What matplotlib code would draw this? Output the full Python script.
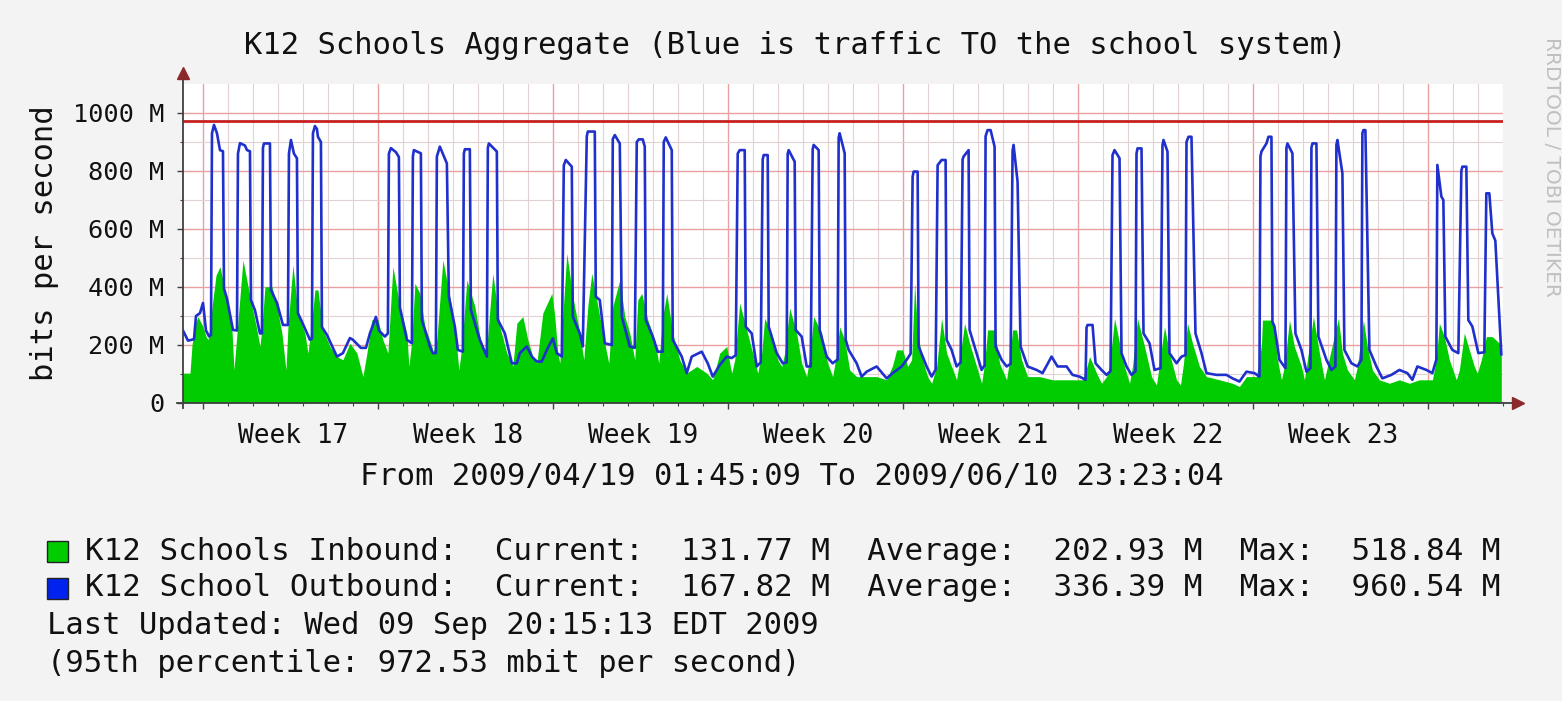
import matplotlib
matplotlib.use("Agg")
import matplotlib.pyplot as plt
from matplotlib.patches import Rectangle
from matplotlib.transforms import blended_transform_factory

# ---------------- data (days since 2009/04/19 01:45, Mbit/s) ----------------
outbound = [
    (0.00, 262), (0.12, 250), (0.32, 215), (0.56, 220), (0.64, 300), (0.80, 310), (0.92, 345), (1.04, 250),
    (1.16, 230), (1.24, 235), (1.28, 930), (1.36, 959), (1.48, 930), (1.60, 872), (1.72, 868), (1.76, 395),
    (1.88, 360), (2.12, 252), (2.28, 250), (2.32, 860), (2.40, 896), (2.60, 888), (2.68, 872), (2.80, 868),
    (2.84, 355), (3.00, 320), (3.20, 240), (3.28, 240), (3.32, 880), (3.36, 895), (3.60, 895), (3.64, 390),
    (3.88, 345), (4.12, 269), (4.32, 269), (4.36, 860), (4.44, 907), (4.56, 860), (4.68, 844), (4.72, 310),
    (4.88, 280), (5.20, 218), (5.28, 222), (5.32, 930), (5.40, 955), (5.48, 945), (5.52, 918), (5.64, 900),
    (5.68, 262), (5.88, 235), (6.28, 160), (6.52, 172), (6.80, 224), (6.92, 218), (7.24, 190), (7.44, 190),
    (7.60, 240), (7.84, 297), (7.96, 250), (8.20, 229), (8.32, 240), (8.36, 860), (8.44, 879), (8.64, 865),
    (8.76, 848), (8.80, 330), (9.08, 218), (9.28, 206), (9.32, 850), (9.36, 872), (9.64, 861), (9.68, 287),
    (10.00, 195), (10.12, 172), (10.24, 172), (10.28, 850), (10.40, 884), (10.68, 826), (10.76, 367),
    (11.00, 263), (11.12, 183), (11.32, 177), (11.36, 860), (11.40, 875), (11.60, 875), (11.64, 321),
    (12.00, 218), (12.28, 160), (12.32, 880), (12.36, 895), (12.68, 867), (12.72, 287), (13.00, 240),
    (13.28, 137), (13.48, 137), (13.60, 172), (13.88, 195), (14.08, 160), (14.28, 143), (14.48, 143),
    (14.68, 183), (14.92, 223), (15.08, 172), (15.28, 160), (15.36, 820), (15.44, 838), (15.68, 815),
    (15.72, 298), (16.00, 240), (16.12, 195), (16.28, 920), (16.32, 936), (16.60, 936), (16.64, 367),
    (16.80, 355), (17.00, 206), (17.28, 200), (17.32, 910), (17.40, 924), (17.60, 895), (17.68, 298),
    (18.00, 195), (18.20, 190), (18.28, 900), (18.36, 909), (18.52, 909), (18.60, 884), (18.64, 287),
    (18.92, 229), (19.12, 177), (19.32, 177), (19.36, 900), (19.44, 916), (19.68, 872), (19.72, 218),
    (20.08, 160), (20.28, 103), (20.48, 160), (20.88, 177), (21.12, 137), (21.32, 91), (21.60, 131),
    (21.88, 160), (22.08, 155), (22.24, 165), (22.32, 860), (22.40, 872), (22.60, 872), (22.64, 263),
    (22.88, 240), (23.08, 126), (23.24, 140), (23.32, 840), (23.36, 855), (23.52, 855), (23.56, 263),
    (23.88, 172), (24.12, 137), (24.28, 140), (24.32, 860), (24.36, 872), (24.60, 832), (24.64, 252),
    (24.88, 229), (25.08, 126), (25.24, 126), (25.32, 875), (25.36, 890), (25.56, 872), (25.60, 252),
    (25.88, 160), (26.12, 137), (26.32, 150), (26.36, 915), (26.40, 930), (26.60, 861), (26.64, 218),
    (26.76, 183), (27.08, 137), (27.28, 91), (27.48, 108), (27.88, 126), (28.28, 85), (28.52, 103),
    (28.88, 126), (29.08, 149), (29.24, 170), (29.32, 780), (29.36, 798), (29.52, 798), (29.56, 195),
    (29.88, 126), (30.08, 91), (30.24, 115), (30.32, 820), (30.48, 838), (30.64, 838), (30.68, 218),
    (30.88, 183), (31.08, 126), (31.24, 140), (31.32, 840), (31.36, 850), (31.56, 872), (31.60, 252),
    (31.88, 172), (32.08, 114), (32.20, 130), (32.24, 920), (32.32, 941), (32.44, 941), (32.60, 884),
    (32.64, 195), (32.88, 149), (33.08, 126), (33.24, 135), (33.32, 870), (33.36, 890), (33.52, 763),
    (33.64, 195), (33.92, 126), (34.28, 114), (34.52, 103), (34.88, 160), (35.12, 126), (35.48, 126),
    (35.72, 97), (36.00, 91), (36.24, 80), (36.28, 260), (36.32, 269), (36.52, 269), (36.64, 137),
    (36.88, 114), (37.08, 97), (37.24, 110), (37.32, 855), (37.40, 872), (37.60, 844), (37.68, 172),
    (37.88, 126), (38.08, 97), (38.24, 110), (38.28, 860), (38.32, 878), (38.48, 878), (38.56, 240),
    (38.80, 206), (39.00, 114), (39.24, 120), (39.32, 890), (39.36, 907), (39.52, 867), (39.60, 172),
    (39.88, 137), (40.08, 160), (40.24, 165), (40.28, 900), (40.36, 918), (40.48, 918), (40.64, 240),
    (40.88, 172), (41.08, 103), (41.48, 97), (41.88, 97), (42.12, 85), (42.40, 74), (42.68, 108),
    (43.00, 103), (43.20, 91), (43.24, 850), (43.28, 867), (43.48, 895), (43.56, 918), (43.68, 918),
    (43.72, 280), (43.80, 264), (44.00, 149), (44.24, 120), (44.28, 880), (44.32, 895), (44.52, 861),
    (44.64, 240), (44.88, 183), (45.08, 108), (45.24, 120), (45.28, 880), (45.32, 895), (45.48, 895),
    (45.56, 229), (45.88, 149), (46.08, 114), (46.24, 126), (46.28, 890), (46.32, 907), (46.52, 792),
    (46.60, 183), (46.88, 137), (47.12, 126), (47.28, 149), (47.32, 930), (47.36, 941), (47.44, 941),
    (47.60, 183), (47.88, 126), (48.12, 85), (48.48, 97), (48.80, 114), (49.12, 103), (49.32, 80),
    (49.52, 126), (49.88, 114), (50.12, 103), (50.28, 150), (50.32, 821), (50.48, 712), (50.56, 700),
    (50.64, 229), (50.92, 183), (51.16, 172), (51.28, 800), (51.32, 815), (51.48, 815), (51.56, 286),
    (51.72, 264), (51.96, 172), (52.20, 175), (52.28, 723), (52.40, 723), (52.52, 585), (52.64, 560),
    (52.88, 168),
]

inbound = [
    (0.00, 103), (0.40, 103), (0.48, 200), (0.60, 270), (0.72, 298), (0.92, 263), (1.04, 230), (1.12, 218),
    (1.20, 260), (1.28, 330), (1.44, 440), (1.60, 470), (1.88, 355), (2.08, 252), (2.16, 114), (2.28, 240),
    (2.52, 493), (2.80, 367), (3.08, 252), (3.20, 195), (3.28, 263), (3.40, 401), (3.68, 401), (3.88, 333),
    (4.08, 240), (4.24, 114), (4.32, 263), (4.52, 476), (4.72, 310), (5.00, 240), (5.12, 172), (5.24, 252),
    (5.40, 390), (5.52, 390), (5.72, 252), (6.00, 195), (6.28, 160), (6.52, 149), (6.80, 206), (7.08, 172),
    (7.32, 91), (7.48, 172), (7.68, 287), (7.92, 287), (8.12, 218), (8.32, 172), (8.52, 470), (8.80, 333),
    (9.08, 240), (9.16, 126), (9.28, 218), (9.40, 413), (9.60, 378), (9.80, 263), (10.08, 195), (10.12, 172),
    (10.28, 218), (10.52, 493), (10.80, 367), (11.00, 263), (11.16, 114), (11.28, 195), (11.48, 424),
    (11.80, 333), (12.00, 229), (12.16, 172), (12.28, 195), (12.52, 447), (12.80, 263), (13.08, 172),
    (13.28, 137), (13.32, 126), (13.48, 275), (13.72, 298), (13.92, 218), (14.12, 160), (14.28, 137),
    (14.52, 310), (14.88, 378), (15.00, 298), (15.12, 172), (15.20, 137), (15.48, 516), (15.72, 367),
    (16.00, 240), (16.16, 149), (16.32, 333), (16.48, 447), (16.68, 355), (16.92, 240), (17.16, 137),
    (17.32, 333), (17.60, 424), (17.80, 298), (18.00, 240), (18.20, 149), (18.32, 355), (18.48, 378),
    (18.72, 287), (19.00, 218), (19.16, 137), (19.32, 298), (19.48, 378), (19.72, 240), (20.00, 149),
    (20.28, 103), (20.68, 126), (21.08, 103), (21.32, 80), (21.60, 172), (21.88, 195), (22.00, 137),
    (22.08, 103), (22.20, 149), (22.40, 344), (22.68, 252), (22.92, 172), (23.12, 103), (23.28, 172),
    (23.40, 292), (23.68, 240), (23.92, 149), (24.08, 126), (24.20, 172), (24.40, 327), (24.68, 240),
    (24.88, 137), (25.08, 91), (25.20, 160), (25.36, 298), (25.68, 240), (25.92, 137), (26.12, 91),
    (26.28, 172), (26.40, 263), (26.60, 218), (26.80, 114), (27.08, 91), (27.48, 91), (27.88, 91),
    (28.28, 80), (28.52, 130), (28.68, 183), (28.92, 183), (29.12, 126), (29.28, 149), (29.40, 413),
    (29.52, 240), (29.72, 149), (29.92, 91), (30.08, 68), (30.28, 126), (30.48, 292), (30.68, 172),
    (30.88, 126), (31.08, 80), (31.20, 149), (31.40, 275), (31.60, 206), (31.88, 126), (32.08, 68),
    (32.20, 137), (32.32, 252), (32.60, 252), (32.80, 137), (33.08, 80), (33.20, 149), (33.32, 252),
    (33.48, 252), (33.68, 149), (33.92, 91), (34.40, 91), (34.92, 80), (35.28, 80), (36.12, 80),
    (36.28, 120), (36.40, 160), (36.52, 137), (36.68, 103), (36.88, 68), (37.08, 91), (37.20, 126),
    (37.40, 292), (37.60, 206), (37.80, 126), (38.00, 68), (38.12, 126), (38.32, 292), (38.60, 195),
    (38.88, 91), (39.08, 62), (39.20, 137), (39.40, 263), (39.60, 172), (39.88, 80), (40.04, 62),
    (40.16, 137), (40.32, 275), (40.52, 206), (40.80, 126), (41.08, 91), (41.60, 80), (42.12, 68),
    (42.40, 57), (42.68, 91), (43.08, 91), (43.28, 200), (43.32, 286), (43.72, 286), (43.80, 240),
    (43.92, 149), (44.08, 80), (44.20, 126), (44.40, 286), (44.60, 194), (44.88, 126), (45.00, 80),
    (45.12, 149), (45.36, 298), (45.60, 172), (45.80, 80), (45.92, 126), (46.36, 292), (46.52, 172),
    (46.72, 114), (47.00, 80), (47.12, 126), (47.36, 286), (47.52, 194), (47.72, 114), (48.00, 80),
    (48.40, 68), (48.80, 80), (49.20, 68), (49.60, 80), (50.12, 80), (50.28, 150), (50.40, 275),
    (50.60, 229), (50.80, 149), (51.08, 80), (51.20, 114), (51.40, 241), (51.60, 183), (51.80, 126),
    (51.92, 103), (52.08, 149), (52.28, 229), (52.52, 229), (52.88, 200),
]

percentile_95 = 972.53
week_labels = ["Week 17", "Week 18", "Week 19", "Week 20", "Week 21", "Week 22", "Week 23"]
first_monday = 0.927          # Mon 2009/04/20 00:00 in days since start
y_ticks = [0, 200, 400, 600, 800, 1000]
y_tick_labels = ["0", "200 M", "400 M", "600 M", "800 M", "1000 M"]

series_names = ["K12 Schools Inbound:", "K12 School Outbound:"]
current_vals = ["131.77 M", "167.82 M"]
average_vals = ["202.93 M", "336.39 M"]
max_vals = ["518.84 M", "960.54 M"]

# ---------------- figure ----------------
W, H = 1562, 701
MONO = "DejaVu Sans Mono"
BIG = 22.0
fig = plt.figure(figsize=(W / 100, H / 100), dpi=100)
fig.patch.set_facecolor("#f3f3f3")

def fx(px):
    return px / W

def fy(py):
    return 1 - py / H

ax = fig.add_axes([fx(182.5), fy(403), 1320 / W, 319 / H])
ax.set_facecolor("white")
ax.set_xlim(0.1, 52.9)
ax.set_ylim(0, 1100)

ox = [p[0] for p in outbound]
oy = [p[1] for p in outbound]
ix = [p[0] for p in inbound]
iy = [p[1] for p in inbound]

ax.fill_between(ix, 0, iy, color="#00cc00", lw=0, zorder=2)
ax.plot(ox, oy, color="#2030cc", lw=1.9, zorder=3)
ax.axhline(percentile_95, color="#c82020", lw=2.0, zorder=4)

# grid
week_starts = [first_monday + 7 * k for k in range(8)]
days = [first_monday + k for k in range(53)]
ax.set_xticks(week_starts)
ax.set_xticks(days, minor=True)
ax.set_yticks(y_ticks)
ax.set_yticklabels(y_tick_labels, fontsize=18.2, family=MONO)
ax.set_yticks([100, 300, 500, 700, 900], minor=True)
ax.set_axisbelow(True)
ax.grid(which="major", color="#eaa0a0", lw=1.0)
ax.grid(which="minor", color="#e4d2d2", lw=0.8)
ax.tick_params(axis="x", which="both", labelbottom=False)
ax.tick_params(which="major", direction="out", length=4, color="#404040", width=1)
ax.tick_params(which="minor", direction="out", length=2, color="#404040", width=0.8)
ax.tick_params(axis="y", which="major", pad=9, labelcolor="#111111")
for s in ax.spines.values():
    s.set_visible(False)

# axes with arrows
ax.plot([-0.004, 1.010], [0, 0], transform=ax.transAxes, color="#404040", lw=1.3, clip_on=False, zorder=5)
ax.plot([1.012], [0], transform=ax.transAxes, marker=">", ms=9, color="#8b2a2a", clip_on=False, zorder=6)
ax.plot([0, 0], [-0.015, 1.03], transform=ax.transAxes, color="#404040", lw=1.3, clip_on=False, zorder=5)
ax.plot([0], [1.035], transform=ax.transAxes, marker="^", ms=9, color="#8b2a2a", clip_on=False, zorder=6)

# week labels
trans = blended_transform_factory(ax.transData, ax.transAxes)
for k, lab in enumerate(week_labels):
    ax.text(first_monday + 7 * k + 3.62, -0.103, lab, transform=trans, ha="center", va="center",
            fontsize=18.8, family=MONO, color="#111111")

# texts
fig.text(fx(795), fy(45), "K12 Schools Aggregate (Blue is traffic TO the school system)",
         ha="center", va="center", fontsize=BIG, family=MONO, color="#111111")
fig.text(fx(45), fy(243), "bits per second", rotation=90, ha="center", va="center",
         fontsize=BIG, family=MONO, color="#111111")
fig.text(fx(792), fy(477), "From 2009/04/19 01:45:09 To 2009/06/10 23:23:04",
         ha="center", va="center", fontsize=BIG, family=MONO, color="#111111")
fig.text(fx(1552), fy(167), "RRDTOOL / TOBI OETIKER", rotation=270, ha="center", va="center",
         fontsize=14.5, color="#c0c0c0", family="DejaVu Sans")

# legend
box_colors = ["#00cc00", "#0022ee"]
row_y = [551, 588]
for name, cur, avg, mx, col, yy in zip(series_names, current_vals, average_vals, max_vals, box_colors, row_y):
    fig.add_artist(Rectangle((fx(47), fy(yy + 10.5)), 21 / W, 21 / H, transform=fig.transFigure,
                             facecolor=col, edgecolor="#222222", lw=1))
    line = f"{name}  Current:  {cur}  Average:  {avg}  Max:  {mx}"
    fig.text(fx(85), fy(yy), line, ha="left", va="center", fontsize=22.2, family=MONO, color="#111111")
fig.text(fx(47), fy(626), "Last Updated: Wed 09 Sep 20:15:13 EDT 2009", ha="left", va="center",
         fontsize=BIG, family=MONO, color="#111111")
fig.text(fx(47), fy(663), "(95th percentile: 972.53 mbit per second)", ha="left", va="center",
         fontsize=BIG, family=MONO, color="#111111")

fig.savefig("out.png", dpi=100, facecolor=fig.get_facecolor())
